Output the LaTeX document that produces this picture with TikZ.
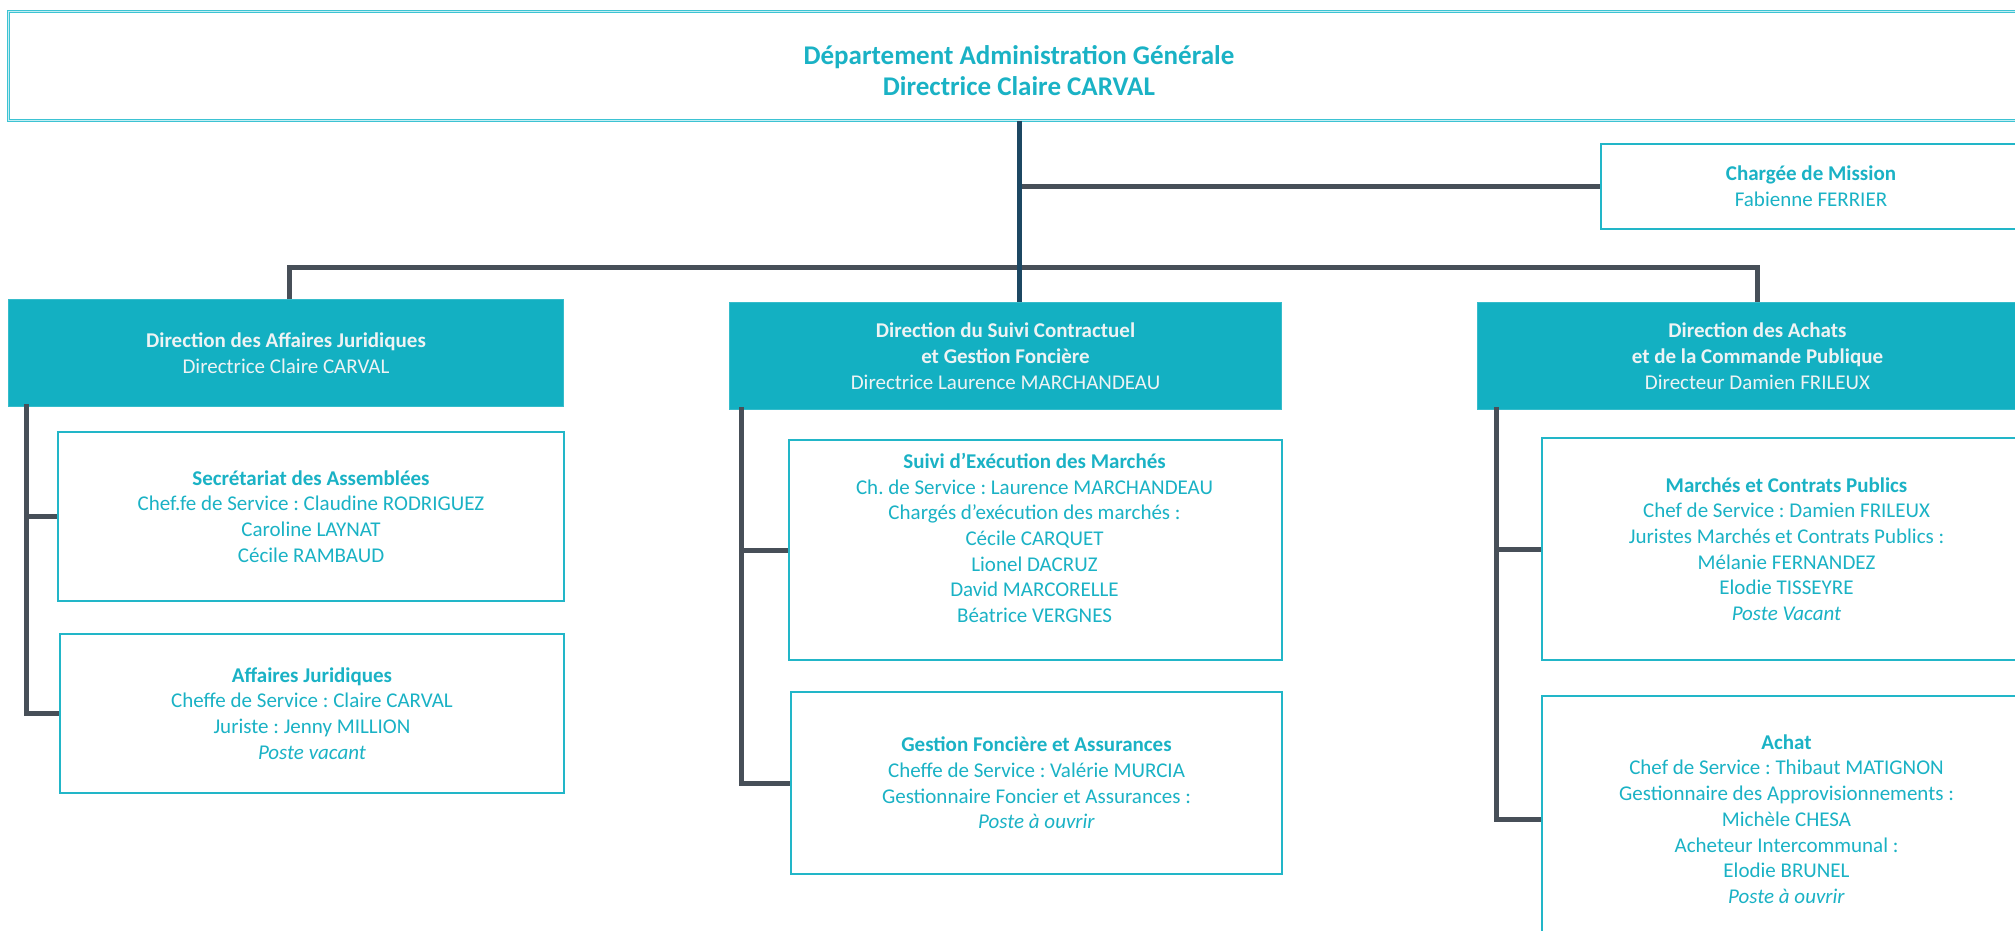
\documentclass[tikz,border=0pt]{standalone}
\usepackage{fontspec}
\setmainfont{Carlito}
\frenchspacing
\definecolor{cyanA}{HTML}{13B0C2}
\definecolor{cyanT}{HTML}{1AB2C5}
\definecolor{cyanL}{HTML}{C4EEF3}
\definecolor{cyanB}{HTML}{22B6C8}
\definecolor{cyanD}{HTML}{3DC3D3}
\definecolor{connG}{HTML}{474F58}
\definecolor{trunkN}{HTML}{1C4762}
\definecolor{dirT}{HTML}{EEF3F4}
\begin{document}
\begin{tikzpicture}[x=1pt,y=-1pt,
  txt/.style={font=\fontsize{21}{25.7}\selectfont, align=center},
  topbox/.style={draw=cyanD, double=cyanL, double distance=1.2pt, line width=0.9pt,
    anchor=north west, inner sep=0pt},
  toptext/.style={text=cyanT, align=center, inner sep=0pt,
    font=\fontsize{27}{31}\selectfont},
  dirbox/.style={txt, fill=cyanA, draw=cyanA!85!white, line width=1pt, text=dirT,
    anchor=north west, inner sep=0pt},
  subbox/.style={txt, draw=cyanB, line width=2pt, fill=white, text=cyanT,
    anchor=north west, inner sep=0pt},
  subtext/.style={txt, text=cyanT, inner sep=0pt},
  conn/.style={draw=connG, line width=5pt},
  trunkline/.style={draw=trunkN, line width=5pt}]
\useasboundingbox (0,0) rectangle (2015,931);
\clip (0,0) rectangle (2015,931);
\fill[white] (0,0) rectangle (2015,931);

% boxes
\node[topbox, minimum width=2022, minimum height=109] (top) at (8,11) {};
\node[toptext] (toptxt) at (1019,71)
  {\textbf{Département Administration Générale}\\\textbf{Directrice Claire CARVAL}};
\node[subbox, minimum width=420, minimum height=85] (charge) at (1600,143)
  {\textbf{Chargée de Mission}\\Fabienne FERRIER};

\node[dirbox, minimum width=555, minimum height=107] (dirL) at (8,299)
  {\textbf{Direction des Affaires Juridiques}\\Directrice Claire CARVAL};
\node[dirbox, minimum width=552, minimum height=107] (dirM) at (729,302)
  {\textbf{Direction du Suivi Contractuel}\\\textbf{et Gestion Foncière}\\Directrice Laurence MARCHANDEAU};
\node[dirbox, minimum width=560, minimum height=107] (dirR) at (1477,302)
  {\textbf{Direction des Achats}\\\textbf{et de la Commande Publique}\\Directeur Damien FRILEUX};

\node[subbox, minimum width=506, minimum height=169] (sec) at (57,431)
  {\textbf{Secrétariat des Assemblées}\\Chef.fe de Service : Claudine RODRIGUEZ\\Caroline LAYNAT\\Cécile RAMBAUD};
\node[subbox, minimum width=504, minimum height=159] (aff) at (59,633)
  {\textbf{Affaires Juridiques}\\Cheffe de Service : Claire CARVAL\\Juriste : Jenny MILLION\\\textit{Poste vacant}};

\node[subbox, minimum width=493, minimum height=220] (suivi) at (788,439) {};
\node[subtext] (suivitxt) at (1034.5,538)
  {\textbf{Suivi d’Exécution des Marchés}\\Ch. de Service : Laurence MARCHANDEAU\\Chargés d’exécution des marchés :\\Cécile CARQUET\\Lionel DACRUZ\\David MARCORELLE\\Béatrice VERGNES};
\node[subbox, minimum width=491, minimum height=182] (gest) at (790,691)
  {\textbf{Gestion Foncière et Assurances}\\Cheffe de Service : Valérie MURCIA\\Gestionnaire Foncier et Assurances :\\\textit{Poste à ouvrir}};

\node[subbox, minimum width=489, minimum height=222] (march) at (1541,437)
  {\textbf{Marchés et Contrats Publics}\\Chef de Service : Damien FRILEUX\\Juristes Marchés et Contrats Publics :\\Mélanie FERNANDEZ\\Elodie TISSEYRE\\\textit{Poste Vacant}};
\node[subbox, minimum width=489, minimum height=246] (achat) at (1541,695)
  {\textbf{Achat}\\Chef de Service : Thibaut MATIGNON\\Gestionnaire des Approvisionnements :\\Michèle CHESA\\Acheteur Intercommunal :\\Elodie BRUNEL\\\textit{Poste à ouvrir}};

% connectors
\coordinate (barY) at (0,267);
\coordinate (spL) at (26,404);
\coordinate (spM) at (741,407);
\coordinate (spR) at (1496,407);
\draw[conn] (top.south |- charge.west) -- (charge.west);
\draw[conn] ([xshift=3.5pt]dirL.north) -- ([xshift=3.5pt]dirL.north |- barY) -- (dirR.north |- barY) -- (dirR.north);
\draw[trunkline] (top.south) -- (top.south |- dirM.north);
\draw[conn] (spL) |- (aff.west);
\draw[conn] (spL |- sec.west) -- (sec.west);
\draw[conn] (spM) |- (gest.west);
\draw[conn] (spM |- suivi.west) -- (suivi.west);
\draw[conn] (spR) |- (achat.west);
\draw[conn] (spR |- march.west) -- (march.west);
\end{tikzpicture}
\end{document}
